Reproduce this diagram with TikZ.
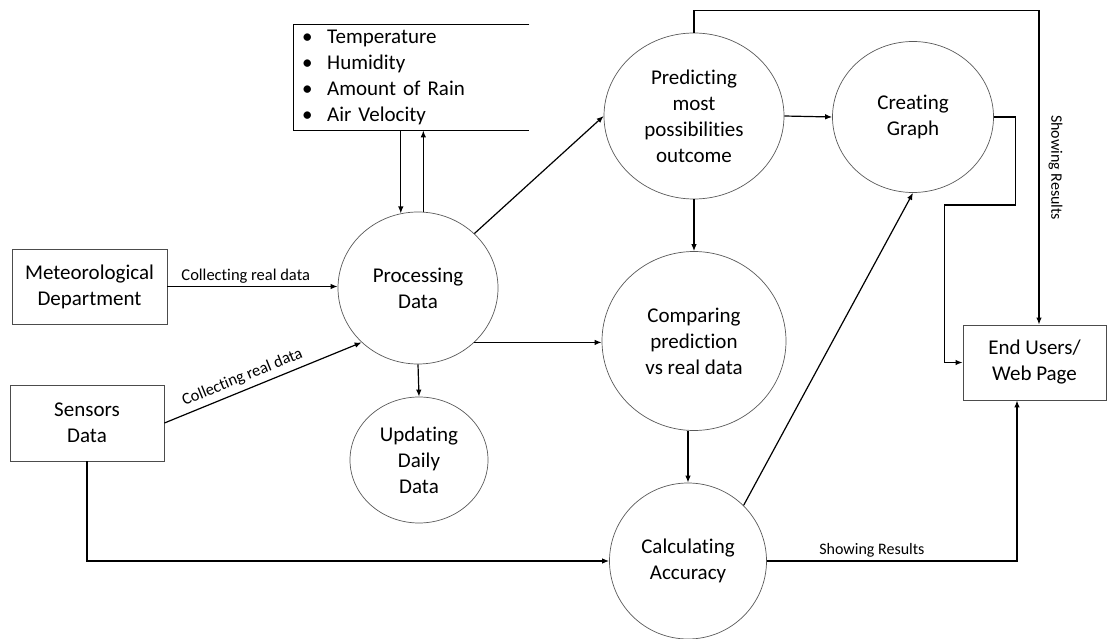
\documentclass[tikz,border=0pt]{standalone}
\usepackage{fontspec}
\setmainfont{Carlito}[Ligatures=NoCommon]
\usetikzlibrary{shapes.geometric,arrows.meta,calc}
\begin{document}
\begin{tikzpicture}[x=1pt,y=-1pt,
  bubble/.style={ellipse, draw=black!65, line width=0.7pt, align=center,
    inner sep=0pt, font=\fontsize{21}{26}\selectfont},
  entity/.style={rectangle, draw=black!70, line width=0.9pt, align=center,
    inner sep=0pt, font=\fontsize{21}{26}\selectfont},
  arr/.style={-{Latex[length=7pt,width=5.5pt]}, line width=1.2pt},
  lbl/.style={font=\fontsize{16.5}{19}\selectfont, inner sep=2pt}]
\useasboundingbox (0,0) rectangle (1109,639);

% external entities
\node[entity, minimum width=155, minimum height=75] (met) at (89.5,286.5) {Meteorological\\Department};
\node[entity, minimum width=154, minimum height=76] (sens) at (87,423) {Sensors\\Data};
\node[entity, minimum width=143, minimum height=75] (endu) at (1034.5,362.5) {End Users/\\Web Page};

% weather attributes list (open on the right)
\node[anchor=north west, minimum height=106, inner xsep=9pt, inner ysep=0pt,
  text width=218pt, align=left, font=\fontsize{21}{26}\selectfont] (attr) at (293,24)
  {\makebox[25pt][l]{\textbullet}Temperature\\
   \makebox[25pt][l]{\textbullet}Humidity\\
   \makebox[25pt][l]{\textbullet}Amount of Rain\\
   \makebox[25pt][l]{\textbullet}Air Velocity};
\draw[line width=0.9pt] (attr.north east) -- (attr.north west) -- (attr.south west) -- (attr.south east);

% processes
\node[bubble, minimum width=160, minimum height=152] (proc) at (418,288) {Processing\\Data};
\node[bubble, minimum width=138, minimum height=126] (upd) at (419,460) {Updating\\Daily\\Data};
\node[bubble, minimum width=180, minimum height=166] (pred) at (694,116) {Predicting\\most\\possibilities\\outcome};
\node[bubble, minimum width=161, minimum height=151] (graph) at (913,117) {Creating\\Graph};
\node[bubble, minimum width=184, minimum height=179] (comp) at (694,341) {Comparing\\prediction\\vs real data};
\node[bubble, minimum width=157, minimum height=156] (acc) at (688,561) {Calculating\\Accuracy};

% data flows
\draw[arr] (attr.south -| proc.103) -- (proc.103);
\draw[arr] (proc.86) -- (proc.86 |- attr.south);

\draw[arr] (met.east) -- (met.east -| proc.west)
  node[lbl, pos=0.46, above=1pt] {Collecting real data};
\draw[arr] (sens.east) -- (proc.224)
  node[lbl, pos=0.42, sloped, above=3pt] {Collecting real data};

\draw[arr] (proc.south) -- (upd.north);
\draw[arr] (proc.44) -- (pred.west);
\draw[arr] (proc.316) -- (proc.316 -| comp.west);

\draw[arr] (pred.east) -- (graph.west);
\draw[arr] (pred.south) -- (comp.north);
\draw[arr] (comp.south -| acc.north) -- (acc.north);
\draw[arr] (acc.45) -- (graph.south);

\draw[arr] (sens.south) |- (acc.west);
\draw[arr] (acc.east) -| ([xshift=-17.5pt]endu.south)
  node[lbl, pos=0.21, above=1pt, font=\fontsize{16}{19}\selectfont] {Showing Results};

\draw[arr] (pred.north) -- ++(0,-22) -| ([xshift=4.5pt]endu.north)
  node[lbl, pos=0.75, anchor=south, rotate=-90, inner xsep=2pt, inner ysep=9pt,
    font=\fontsize{16}{19}\selectfont] {Showing Results};

\draw[arr] (graph.east) -- ++(21.5,0) -- ++(0,88) -- ++(-71,0) |- (endu.west);
\end{tikzpicture}
\end{document}
